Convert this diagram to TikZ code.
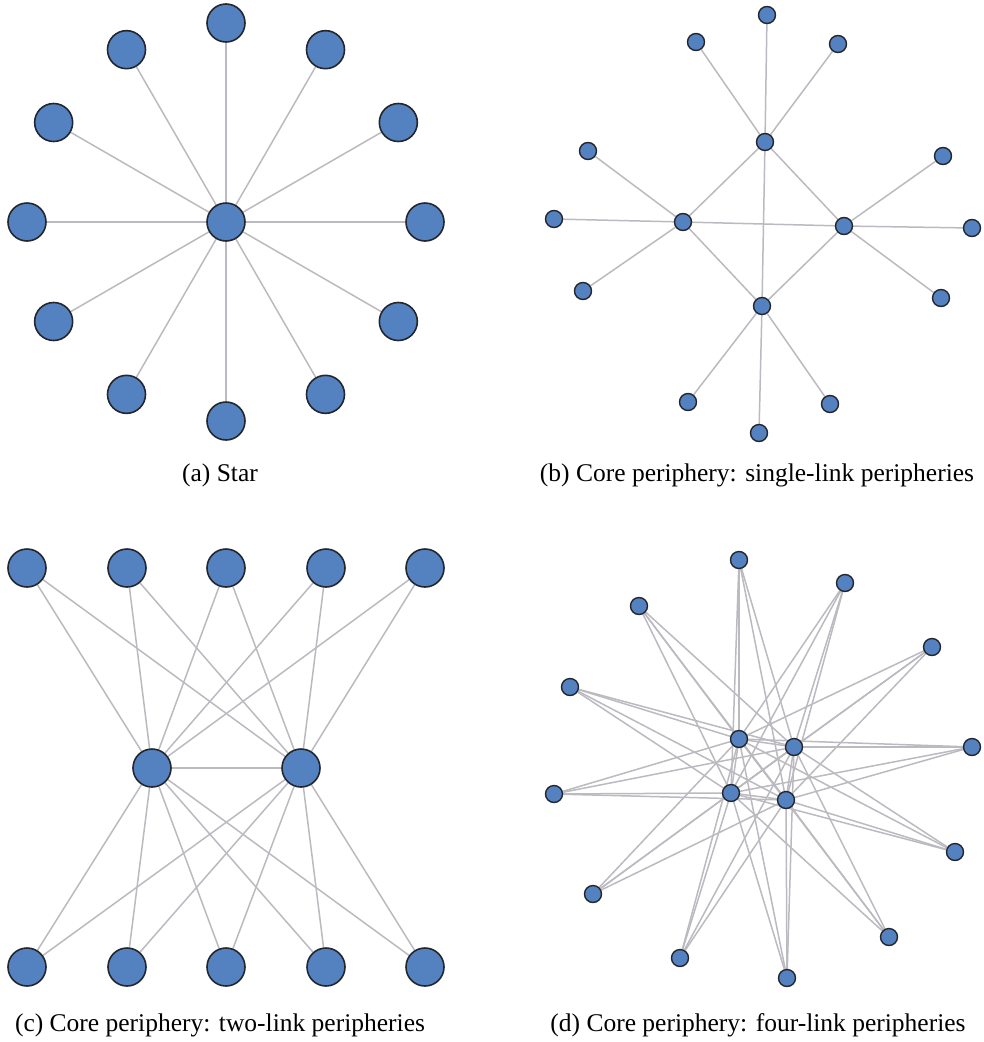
\documentclass[tikz,border=0pt]{standalone}
\usepackage{fontspec}
\setmainfont{Liberation Serif}
\newfontfamily\capfont{Liberation Serif}
\usetikzlibrary{backgrounds}
\definecolor{nodeblue}{RGB}{84,130,193}
\definecolor{nodeline}{RGB}{35,38,45}
\definecolor{linkgray}{RGB}{186,186,192}
\tikzset{
  bignode/.style={circle, fill=nodeblue, draw=nodeline, line width=1.6pt,
    minimum size=38pt, inner sep=0pt},
  smallnode/.style={circle, fill=nodeblue, draw=nodeline, line width=1.4pt,
    minimum size=17pt, inner sep=0pt},
  link/.style={draw=linkgray, line width=1.5pt},
  caption/.style={anchor=base, inner sep=0pt, font=\capfont\fontsize{25.5}{30}\selectfont}
}
\begin{document}
\begin{tikzpicture}[x=1pt, y=-1pt]
\useasboundingbox (0,0) rectangle (984,1042);

% ---------- (a) star ----------
\node[bignode] (ac) at (226,222) {};
\foreach \i in {0,...,11}
  \node[bignode] (a\i) at ({226+199*cos(30*\i)},{222+199*sin(30*\i)}) {};
\begin{scope}[on background layer]
  \foreach \i in {0,...,11} \draw[link] (ac) -- (a\i);
\end{scope}
\node[caption] (capa) at (220,481) {(a) Star};

% ---------- (b) single-link peripheries ----------
\node[smallnode] (bt) at (765,142) {};
\node[smallnode] (bl) at (683,222) {};
\node[smallnode] (br) at (844,226) {};
\node[smallnode] (bb) at (762,306) {};
\node[smallnode] (bt1) at (767,15) {};
\node[smallnode] (bt2) at (696,42) {};
\node[smallnode] (bt3) at (838,44) {};
\node[smallnode] (bl1) at (588,151) {};
\node[smallnode] (bl2) at (554,219) {};
\node[smallnode] (bl3) at (583,291) {};
\node[smallnode] (br1) at (943,156) {};
\node[smallnode] (br2) at (972,228) {};
\node[smallnode] (br3) at (941,298) {};
\node[smallnode] (bb1) at (688,402) {};
\node[smallnode] (bb2) at (759,433) {};
\node[smallnode] (bb3) at (830,404) {};
\begin{scope}[on background layer]
  \foreach \c in {t,l,r,b}
    \foreach \k in {1,2,3} \draw[link] (b\c) -- (b\c\k);
  \draw[link] (bt) -- (bl) (bt) -- (br) (bt) -- (bb)
              (bl) -- (br) (bl) -- (bb) (br) -- (bb);
\end{scope}
\node[caption] (capb) at (757,481) {(b) Core periphery: single-link peripheries};

% ---------- (c) two-link peripheries ----------
\node[bignode] (cl) at (152,768) {};
\node[bignode] (cr) at (301,768) {};
\foreach \x [count=\k] in {27,127,226,326,425} {
  \node[bignode] (ct\k) at (\x,568) {};
  \node[bignode] (cb\k) at (\x,967) {};
}
\begin{scope}[on background layer]
  \draw[link] (cl) -- (cr);
  \foreach \k in {1,...,5} {
    \draw[link] (cl) -- (ct\k);
    \draw[link] (cr) -- (ct\k);
    \draw[link] (cl) -- (cb\k);
    \draw[link] (cr) -- (cb\k);
  }
\end{scope}
\node[caption] (capc) at (220,1031) {(c) Core periphery: two-link peripheries};

% ---------- (d) four-link peripheries ----------
\node[smallnode] (d1) at (739,739) {};
\node[smallnode] (d2) at (794,747) {};
\node[smallnode] (d3) at (731,793) {};
\node[smallnode] (d4) at (786,800) {};
\foreach \x/\y [count=\k] in {739/560, 845/583, 639/606, 932/647, 570/687, 972/747,
    554/794, 955/852, 593/894, 889/937, 680/958, 787/978}
  \node[smallnode] (dp\k) at (\x,\y) {};
\begin{scope}[on background layer]
  \draw[link] (d1) -- (d2) (d1) -- (d3) (d1) -- (d4)
              (d2) -- (d3) (d2) -- (d4) (d3) -- (d4);
  \foreach \k in {1,...,12}
    \foreach \c in {1,...,4} \draw[link] (d\c) -- (dp\k);
\end{scope}
\node[caption] (capd) at (758,1031) {(d) Core periphery: four-link peripheries};
\end{tikzpicture}
\end{document}
